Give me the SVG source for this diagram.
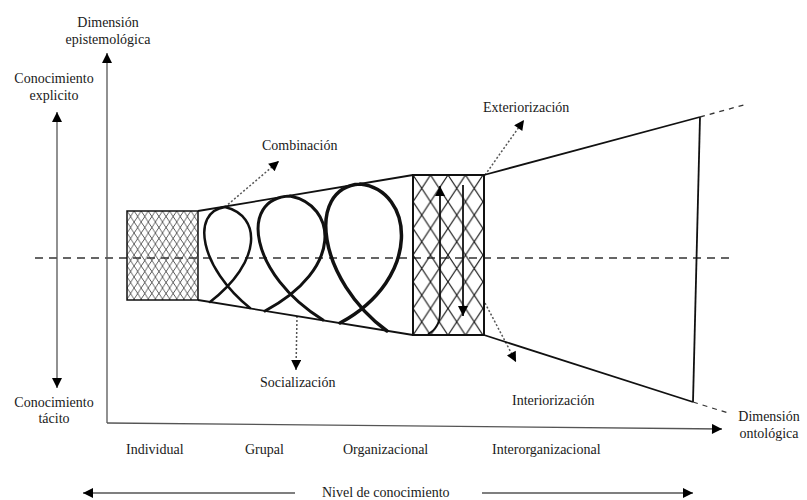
<svg xmlns="http://www.w3.org/2000/svg" width="807" height="500" viewBox="0 0 807 500">
<style>
text{font-family:"Liberation Serif","Times New Roman",serif;font-size:14px;fill:#1a1a1a}
.ax{stroke:#555;stroke-width:1.3;fill:none}
.ln{stroke:#111;stroke-width:1.8;fill:none}
.dot{stroke:#555;stroke-width:1.5;stroke-dasharray:2 2;fill:none}
.dash{stroke:#333;stroke-width:1.5;stroke-dasharray:8 6;fill:none}
.dash2{stroke:#333;stroke-width:1.3;stroke-dasharray:5 5;fill:none}
.loop{stroke:#111;fill:none;stroke-linecap:round}
</style>
<defs>
<marker id="ah" viewBox="0 0 10 10" refX="10" refY="5" markerUnits="userSpaceOnUse" markerWidth="12" markerHeight="10" orient="auto">
<path d="M0,0 L10,5 L0,10 z" fill="#000"/>
</marker>
<pattern id="fine" patternUnits="userSpaceOnUse" x="127" y="211" width="7.1" height="11">
<path d="M0,0 L7.1,11 M7.1,0 L0,11" stroke="#333" stroke-width="0.8" fill="none"/>
</pattern>
<pattern id="coarse" patternUnits="userSpaceOnUse" x="413" y="175" width="17.5" height="26.7">
<path d="M0,0 L17.5,26.7 M17.5,0 L0,26.7" stroke="#111" stroke-width="1.1" fill="none"/>
</pattern>
</defs>

<g id="connectors">
<line class="dash" x1="35" y1="258" x2="735" y2="258"/>
<line class="ax" x1="107" y1="423" x2="107" y2="53" marker-end="url(#ah)"/>
<line class="ax" x1="107" y1="423" x2="722" y2="429" marker-end="url(#ah)"/>
<line class="ax" x1="57" y1="250" x2="57" y2="112" stroke="#111" marker-end="url(#ah)"/>
<line class="ax" x1="57" y1="250" x2="57" y2="388" marker-end="url(#ah)"/>
<line class="ax" x1="295" y1="493" x2="83" y2="493" marker-end="url(#ah)"/>
<line class="ax" x1="482" y1="493" x2="693" y2="493" marker-end="url(#ah)"/>
<line class="dot" x1="225" y1="207" x2="279" y2="161" marker-end="url(#ah)"/>
<line class="dot" x1="297" y1="316" x2="296" y2="370" marker-end="url(#ah)"/>
<line class="dot" x1="485" y1="175" x2="524" y2="120" marker-end="url(#ah)"/>
<line class="dot" x1="485" y1="303" x2="516" y2="362" marker-end="url(#ah)"/>
</g>

<g id="individual">
<rect x="127" y="211" width="71" height="89" fill="url(#fine)" stroke="#111" stroke-width="1.5"/>
</g>

<g id="grupal">
<line class="ln" x1="198" y1="211" x2="413" y2="175"/>
<line class="ln" x1="198" y1="300" x2="413" y2="335"/>
<path class="loop" stroke-width="2.5" d="M225,207 C190,212 200,268 250,308 M225,207 C262,216 262,262 210,302"/>
<path class="loop" stroke-width="3" d="M290,196 C238,198 250,275 323,320 M290,196 C336,205 345,268 265,311"/>
<path class="loop" stroke-width="3.5" d="M360,184 C305,188 318,280 387,331 M360,184 C414,190 423,278 340,323"/>
</g>

<g id="organizacional">
<rect x="413" y="175" width="71" height="160" fill="url(#coarse)" stroke="#111" stroke-width="2"/>
<path d="M428,334 Q440,328 440,312 L440,186" stroke="#111" stroke-width="1.8" fill="none" marker-end="url(#ah)"/>
<line x1="463" y1="185" x2="463" y2="316" stroke="#111" stroke-width="1.8" marker-end="url(#ah)"/>
</g>

<g id="interorganizacional">
<line class="ln" x1="484" y1="175" x2="700" y2="117"/>
<line class="ln" x1="484" y1="335" x2="693" y2="402"/>
<line class="ln" x1="700" y1="117" x2="693" y2="402"/>
<line class="dash2" x1="700" y1="117" x2="747" y2="104"/>
<line class="dash2" x1="693" y1="402" x2="728" y2="413"/>
</g>

<g id="labels">
<text x="108" y="27" text-anchor="middle">Dimensión</text>
<text x="108" y="44" text-anchor="middle">epistemológica</text>
<text x="54" y="83" text-anchor="middle">Conocimiento</text>
<text x="54" y="100" text-anchor="middle">explicito</text>
<text x="54" y="407" text-anchor="middle">Conocimiento</text>
<text x="54" y="423" text-anchor="middle">tácito</text>
<text x="769" y="421" text-anchor="middle">Dimensión</text>
<text x="769" y="438" text-anchor="middle">ontológica</text>
<text x="262" y="150">Combinación</text>
<text x="260" y="387">Socialización</text>
<text x="483" y="112">Exteriorización</text>
<text x="512" y="405">Interiorización</text>
<text x="126" y="454">Individual</text>
<text x="245" y="454">Grupal</text>
<text x="343" y="454">Organizacional</text>
<text x="492" y="454">Interorganizacional</text>
<text x="322" y="497">Nivel de conocimiento</text>
</g>
</svg>
